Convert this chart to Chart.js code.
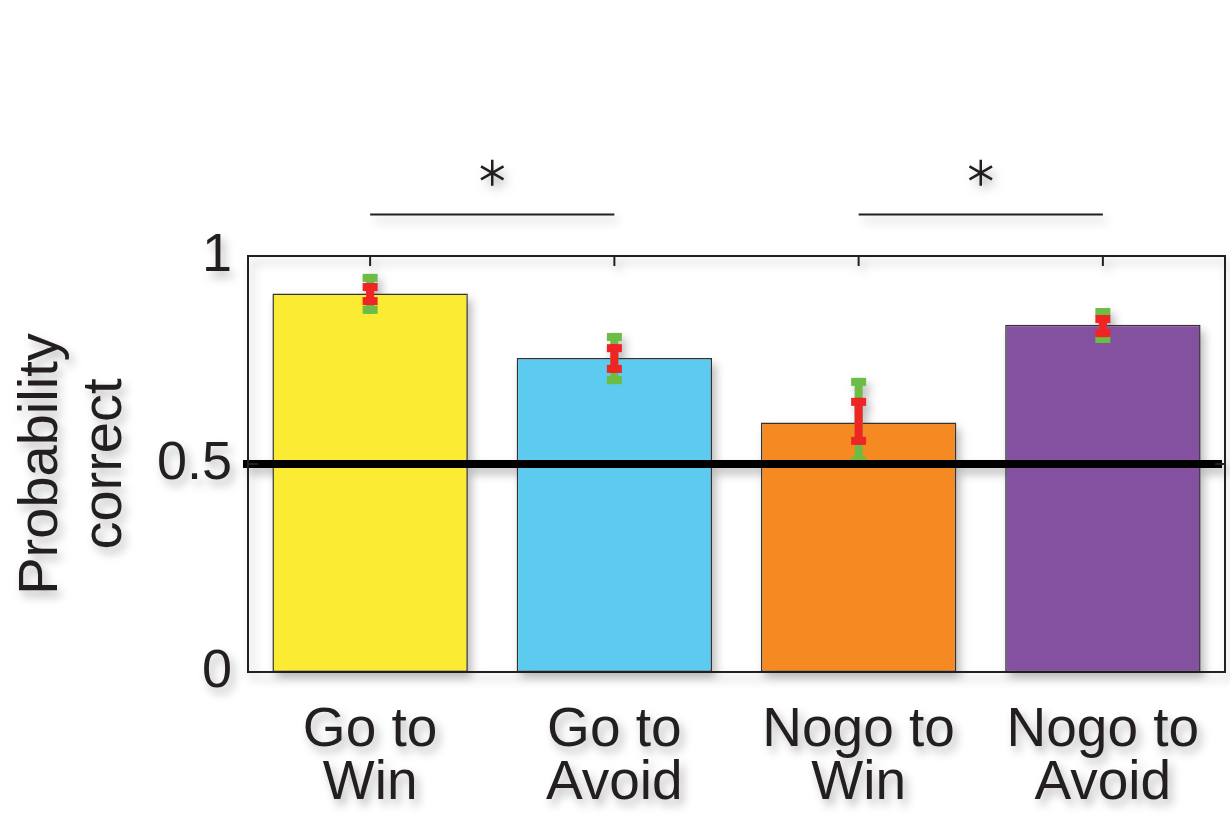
<!DOCTYPE html>
<html>
<head>
<meta charset="utf-8">
<title>Probability correct</title>
<script src="https://cdn.jsdelivr.net/npm/chart.js@4"></script>
<style>
  body { margin: 0; background: #fff; }
  #chart { filter: drop-shadow(4px 6px 5px rgba(0, 0, 0, 0.28)); }
</style>
</head>
<body>
<canvas id="chart" width="1230" height="821"></canvas>
<script>
// conditions and values
const categories = [['Go to', 'Win'], ['Go to', 'Avoid'], ['Nogo to', 'Win'], ['Nogo to', 'Avoid']];
const meanCorrect = [0.91, 0.755, 0.60, 0.835];
const semLow = [0.882, 0.719, 0.546, 0.805];
const semHigh = [0.935, 0.788, 0.659, 0.858];
const ciLow = [0.861, 0.692, 0.498, 0.791];
const ciHigh = [0.957, 0.815, 0.707, 0.875];
const barColors = ['#FBEC33', '#5DCBEF', '#F58A22', '#8351A0'];
const yTicks = [0, 0.5, 1];
const chanceLevel = 0.5;
const sigPairs = [[0, 1], [2, 3]];
const sigBarLevel = 1.1;
const sigStarLevel = 1.2;

const fontFamily = "'Liberation Sans', Arial, Helvetica, sans-serif";

// draws error bars, chance line, axis box, ticks and significance marks
const extrasPlugin = {
  id: 'extras',
  afterDatasetsDraw(chart) {
    const ctx = chart.ctx;
    const x = chart.scales.x;
    const y = chart.scales.y;
    const area = chart.chartArea;

    function errBar(i, lo, hi, color) {
      const cx = x.getPixelForValue(i);
      const top = y.getPixelForValue(hi);
      const bot = y.getPixelForValue(lo);
      ctx.fillStyle = color;
      ctx.fillRect(cx - 4, top, 8, bot - top);
      ctx.fillRect(cx - 7.5, top, 15, 8);
      ctx.fillRect(cx - 7.5, bot - 8, 15, 8);
    }

    ctx.save();
    for (let i = 0; i < categories.length; i++) {
      errBar(i, ciLow[i], ciHigh[i], '#6BBD45');
      errBar(i, semLow[i], semHigh[i], '#EE2524');
    }

    // chance line
    const cy = y.getPixelForValue(chanceLevel);
    ctx.strokeStyle = '#000';
    ctx.lineWidth = 8;
    ctx.beginPath();
    ctx.moveTo(area.left - 5, cy);
    ctx.lineTo(area.right - 3, cy);
    ctx.stroke();

    // axis box
    ctx.strokeStyle = '#231F20';
    ctx.lineWidth = 2;
    ctx.strokeRect(area.left, area.top, area.right - area.left, area.bottom - area.top);

    // inward tick marks
    ctx.beginPath();
    yTicks.forEach(function (v) {
      const py = y.getPixelForValue(v);
      ctx.moveTo(area.left, py);
      ctx.lineTo(area.left + 10, py);
      ctx.moveTo(area.right, py);
      ctx.lineTo(area.right - 10, py);
    });
    for (let i = 0; i < categories.length; i++) {
      const px = x.getPixelForValue(i);
      ctx.moveTo(px, area.top);
      ctx.lineTo(px, area.top + 10);
    }
    ctx.stroke();

    // significance brackets and stars
    ctx.lineWidth = 2;
    sigPairs.forEach(function (pair) {
      const x1 = x.getPixelForValue(pair[0]);
      const x2 = x.getPixelForValue(pair[1]);
      const by = y.getPixelForValue(sigBarLevel);
      ctx.beginPath();
      ctx.moveTo(x1, by);
      ctx.lineTo(x2, by);
      ctx.stroke();

      const sx = (x1 + x2) / 2;
      const sy = y.getPixelForValue(sigStarLevel);
      const r = 13;
      ctx.lineWidth = 2.5;
      ctx.beginPath();
      [90, 30, 150].forEach(function (deg) {
        const a = deg * Math.PI / 180;
        ctx.moveTo(sx - r * Math.cos(a), sy - r * Math.sin(a));
        ctx.lineTo(sx + r * Math.cos(a), sy + r * Math.sin(a));
      });
      ctx.stroke();
      ctx.lineWidth = 2;
    });
    ctx.restore();
  }
};

new Chart(document.getElementById('chart'), {
  type: 'bar',
  data: {
    labels: categories,
    datasets: [{
      data: meanCorrect,
      backgroundColor: barColors,
      borderColor: '#333',
      borderWidth: 1.5,
      borderSkipped: false,
      barPercentage: 0.8,
      categoryPercentage: 1
    }]
  },
  options: {
    responsive: false,
    animation: false,
    layout: { padding: { top: 256, right: 5, left: 0, bottom: 0 } },
    plugins: { legend: { display: false }, tooltip: { enabled: false } },
    scales: {
      x: {
        grid: { display: false, drawTicks: false },
        border: { display: false },
        ticks: {
          color: '#231F20',
          padding: 33,
          maxRotation: 0,
          autoSkip: false,
          font: { family: fontFamily, size: 55, lineHeight: 0.95 }
        },
        afterFit(scale) {
          scale.height = 149;
          scale.paddingLeft = 0;
          scale.paddingRight = 0;
        }
      },
      y: {
        min: 0,
        max: 1,
        grid: { display: false, drawTicks: false },
        border: { display: false },
        afterBuildTicks(scale) { scale.ticks = yTicks.map(v => ({ value: v })); },
        ticks: {
          color: '#231F20',
          padding: 16,
          font: { family: fontFamily, size: 54 },
          callback: v => String(v)
        },
        title: {
          display: true,
          text: ['Probability', 'correct'],
          color: '#231F20',
          padding: { top: 9, bottom: 0 },
          font: { family: fontFamily, size: 56, lineHeight: 1.15 }
        },
        afterFit(scale) {
          scale.width = 248;
          scale.paddingTop = 0;
          scale.paddingBottom = 0;
        }
      }
    }
  },
  plugins: [extrasPlugin]
});
</script>
</body>
</html>
